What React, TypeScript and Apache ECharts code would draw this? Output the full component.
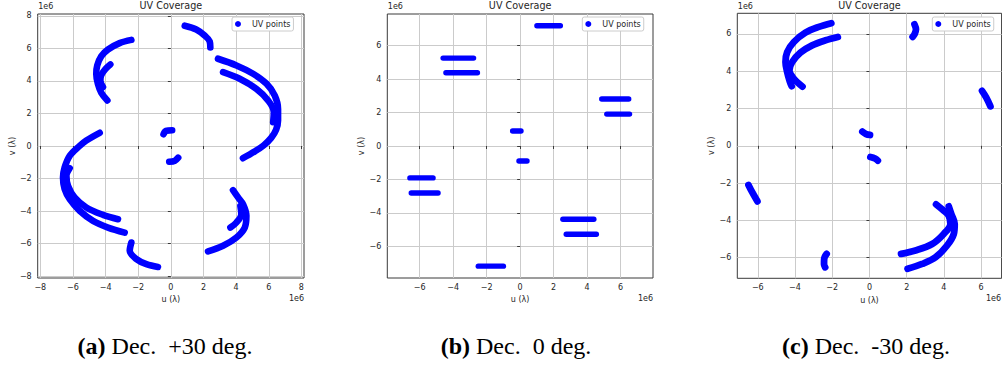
import React, { useEffect, useRef } from 'react';
import * as echarts from 'echarts';

// ---------- texts ----------
const TITLE = 'UV Coverage';
const LEGEND_NAME = 'UV points';
const X_NAME = 'u (λ)';
const Y_NAME = 'v (λ)';
const OFFSET_LABEL = '1e6';
const CAPTION_TAGS = ['(a)', '(b)', '(c)'];
const CAPTION_TEXTS = ['Dec.\u2002+30 deg.', 'Dec.\u20020 deg.', 'Dec.\u2002-30 deg.'];

// ---------- tick labels ----------
const TICKS_A = [-8, -6, -4, -2, 0, 2, 4, 6, 8];
const TICKS_B = [-6, -4, -2, 0, 2, 4, 6];
const TICKS_C = [-6, -4, -2, 0, 2, 4, 6];

// ---------- data (u, v) in units of 1e6 λ ----------
// (a) Dec. +30 deg.
const A_NW_OUTER = [[-2.42, 6.52], [-3.14, 6.32], [-3.85, 5.93], [-4.26, 5.52], [-4.51, 4.95], [-4.57, 4.43], [-4.47, 3.82], [-4.26, 3.27], [-3.89, 2.8]];
const A_NW_INNER = [[-3.71, 5.01], [-4.0, 4.74], [-4.26, 4.37], [-4.32, 4.03], [-4.16, 3.62]];
const A_N = [[0.85, 7.39], [1.56, 7.16], [2.07, 6.79], [2.38, 6.43], [2.42, 6.05]];
const A_E_OUTER = [[2.89, 5.36], [4.02, 4.95], [5.04, 4.44], [5.86, 3.83], [6.37, 3.1], [6.57, 2.28], [6.57, 1.57], [6.45, 1.0], [6.15, 0.5], [5.7, 0.05], [5.15, -0.33], [4.42, -0.75]];
const A_E_INNER = [[3.2, 4.54], [4.22, 4.13], [5.24, 3.51], [5.96, 2.8], [6.31, 2.08], [6.27, 1.46]];
const A_C_UP = [[-0.45, 0.72], [-0.3, 0.93], [0.08, 0.97]];
const A_C_DOWN = [[-0.1, -0.97], [0.25, -0.9], [0.45, -0.72]];
const A_W_OUTER = [[-4.36, 0.81], [-5.18, 0.34], [-5.59, 0.01], [-6.2, -0.6], [-6.51, -1.32], [-6.61, -1.94], [-6.51, -2.65], [-6.2, -3.27], [-5.59, -3.98], [-4.77, -4.6], [-3.85, -5.01], [-2.83, -5.32]];
const A_W_INNER = [[-3.24, -4.5], [-4.16, -4.23], [-5.18, -3.78], [-5.9, -3.16], [-6.3, -2.45], [-6.4, -1.83], [-6.2, -1.36]];
const A_S = [[-2.42, -5.93], [-2.52, -6.44], [-2.11, -6.95], [-1.5, -7.26], [-0.79, -7.43]];
const A_SE_OUTER = [[2.28, -6.48], [3.2, -6.13], [4.02, -5.62], [4.53, -5.01], [4.63, -4.29], [4.42, -3.57], [4.12, -3.16], [3.81, -2.71]];
const A_SE_INNER = [[3.65, -5.01], [4.02, -4.7], [4.32, -4.19], [4.26, -3.68]];

// (b) Dec. 0 deg.
const B_1 = [[1.0, 7.2], [2.4, 7.2]];
const B_2 = [[-4.6, 5.26], [-2.78, 5.26]];
const B_3 = [[-4.43, 4.38], [-2.55, 4.38]];
const B_4 = [[4.87, 2.81], [6.48, 2.81]];
const B_5 = [[5.17, 1.91], [6.53, 1.91]];
const B_6 = [[-0.45, 0.9], [0.05, 0.9]];
const B_7 = [[-0.07, -0.9], [0.41, -0.9]];
const B_8 = [[-6.58, -1.91], [-5.2, -1.91]];
const B_9 = [[-6.5, -2.81], [-4.9, -2.81]];
const B_10 = [[2.55, -4.38], [4.4, -4.38]];
const B_11 = [[2.75, -5.28], [4.55, -5.28]];
const B_12 = [[-2.5, -7.19], [-1.0, -7.19]];

// (c) Dec. -30 deg.
const C_NW_OUTER = [[-2.05, 6.58], [-2.72, 6.38], [-3.44, 6.07], [-4.06, 5.57], [-4.42, 5.03], [-4.51, 4.5], [-4.42, 3.96], [-4.28, 3.45], [-4.18, 3.2]];
const C_NW_INNER = [[-1.7, 5.84], [-2.36, 5.66], [-3.08, 5.39], [-3.71, 5.0], [-4.15, 4.5], [-4.3, 4.05], [-4.1, 3.65], [-3.6, 3.18]];
const C_N = [[2.42, 6.52], [2.5, 6.25], [2.42, 5.98], [2.32, 5.85]];
const C_E = [[6.05, 2.95], [6.27, 2.6], [6.5, 2.12]];
const C_C_UP = [[-0.38, 0.76], [-0.18, 0.63], [0.03, 0.58]];
const C_C_DOWN = [[0.05, -0.6], [0.3, -0.68], [0.45, -0.8]];
const C_W = [[-6.5, -2.1], [-6.3, -2.49], [-6.02, -2.98]];
const C_S = [[-2.3, -5.8], [-2.43, -6.05], [-2.44, -6.35], [-2.38, -6.52]];
const C_SE_OUTER = [[2.05, -6.6], [2.83, -6.34], [3.55, -5.98], [4.17, -5.35], [4.53, -4.73], [4.58, -4.19], [4.4, -3.66], [4.26, -3.25]];
const C_SE_INNER = [[1.7, -5.8], [2.47, -5.62], [3.37, -5.27], [3.99, -4.73], [4.35, -4.19], [4.26, -3.75], [3.99, -3.48], [3.58, -3.14]];

const TRACKS_A = [A_NW_OUTER, A_NW_INNER, A_N, A_E_OUTER, A_E_INNER, A_C_UP, A_C_DOWN, A_W_OUTER, A_W_INNER, A_S, A_SE_OUTER, A_SE_INNER];
const TRACKS_B = [B_1, B_2, B_3, B_4, B_5, B_6, B_7, B_8, B_9, B_10, B_11, B_12];
const TRACKS_C = [C_NW_OUTER, C_NW_INNER, C_N, C_E, C_C_UP, C_C_DOWN, C_W, C_S, C_SE_OUTER, C_SE_INNER];

// ---------- layout ----------
const BLUE = '#0000ff';
const FONT = 'DejaVu Sans';
const TEXT_COLOR = '#262626';
const AXIS_COLOR = '#3a3a3a';
const GRID_COLOR = '#cbcbcb';

const PANELS = [
  { left: 37.7, top: 14, width: 266.3, height: 264, xr: 8.16, yr: 8.11, ticks: TICKS_A, tracks: TRACKS_A, lw: 6.6, legendLeft: 232, caption: 165 },
  { left: 387.3, top: 14, width: 265.7, height: 264, xr: 7.93, yr: 7.9, ticks: TICKS_B, tracks: TRACKS_B, lw: 5.4, legendLeft: 582.3, caption: 516 },
  { left: 737.3, top: 13.3, width: 264.3, height: 265, xr: 7.1, yr: 7.11, ticks: TICKS_C, tracks: TRACKS_C, lw: 6.8, legendLeft: 932.3, caption: 866 },
];

const fmt = (v: number) => (v < 0 ? '\u2212' + String(-v) : String(v));

function buildOption() {
  const grid: any[] = [];
  const xAxis: any[] = [];
  const yAxis: any[] = [];
  const series: any[] = [];
  const legend: any[] = [];
  const title: any[] = [];
  const graphic: any[] = [];

  PANELS.forEach((p, i) => {
    grid.push({
      left: p.left, top: p.top, width: p.width, height: p.height,
      show: true, borderColor: AXIS_COLOR, borderWidth: 1, backgroundColor: 'transparent',
      containLabel: false,
    });
    const common = {
      type: 'value',
      gridIndex: i,
      axisLine: { show: false },
      axisTick: { show: true, inside: false, length: 3, customValues: p.ticks, lineStyle: { color: AXIS_COLOR, width: 1 } },
      axisLabel: { customValues: p.ticks, formatter: fmt, fontFamily: FONT, fontSize: 8, color: TEXT_COLOR },
      splitLine: { show: true, lineStyle: { color: GRID_COLOR, width: 1 } },
      nameTextStyle: { fontFamily: FONT, fontSize: 8, color: TEXT_COLOR },
      nameLocation: 'middle',
    };
    xAxis.push({ ...common, min: -p.xr, max: p.xr, name: X_NAME, nameGap: 16, axisLabel: { ...common.axisLabel, margin: 5 } });
    yAxis.push({ ...common, min: -p.yr, max: p.yr, name: Y_NAME, nameGap: 21, axisLabel: { ...common.axisLabel, margin: 6 } });

    p.tracks.forEach((t) => {
      series.push({
        type: 'line', name: LEGEND_NAME, xAxisIndex: i, yAxisIndex: i,
        data: t, smooth: 0.35, symbol: 'none', showSymbol: false, silent: true,
        color: BLUE, itemStyle: { color: BLUE },
        lineStyle: { width: p.lw, color: BLUE, cap: 'round', join: 'round' },
        emphasis: { disabled: true }, z: 3,
      });
    });

    legend.push({
      data: [{ name: LEGEND_NAME, icon: 'circle' }],
      left: p.legendLeft, top: 17, orient: 'vertical',
      itemWidth: 18, itemHeight: 6, padding: [3, 3, 3, 3],
      backgroundColor: '#ffffff', borderColor: '#cccccc', borderWidth: 1, borderRadius: 2,
      textStyle: { fontFamily: FONT, fontSize: 8, color: TEXT_COLOR },
      selectedMode: false,
    });

    title.push({
      text: TITLE, left: p.left + p.width / 2, top: 0.5, textAlign: 'center', padding: 0,
      textStyle: { fontFamily: FONT, fontSize: 9.6, fontWeight: 'normal', color: TEXT_COLOR },
    });

    graphic.push({
      type: 'text', left: p.left + 0.5, top: 2.5,
      style: { text: OFFSET_LABEL, font: `8px "${FONT}"`, fill: TEXT_COLOR },
    });
    graphic.push({
      type: 'text', x: Math.min(p.left + p.width, 1001), y: 298,
      style: { text: OFFSET_LABEL, font: `8px "${FONT}"`, fill: TEXT_COLOR, align: 'right', verticalAlign: 'middle' },
    });
    graphic.push({
      type: 'text', x: p.caption, y: 345.5,
      style: {
        text: `{b|${CAPTION_TAGS[i]}} ${CAPTION_TEXTS[i]}`,
        rich: {
          b: { font: `bold 24px "Liberation Serif"`, fill: '#000' },
        },
        font: `24px "Liberation Serif"`, fill: '#000', align: 'center', verticalAlign: 'middle',
      },
    });
  });

  return { animation: false, backgroundColor: '#ffffff', grid, xAxis, yAxis, series, legend, title, graphic };
}

export default function App() {
  const ref = useRef<HTMLDivElement>(null);
  useEffect(() => {
    if (!ref.current) return;
    const chart = echarts.init(ref.current, undefined, { renderer: 'svg' });
    chart.setOption(buildOption() as any);
    return () => chart.dispose();
  }, []);
  return <div ref={ref} style={{ position: 'absolute', left: 0, top: 0, width: 1002, height: 367, background: '#fff' }} />;
}
